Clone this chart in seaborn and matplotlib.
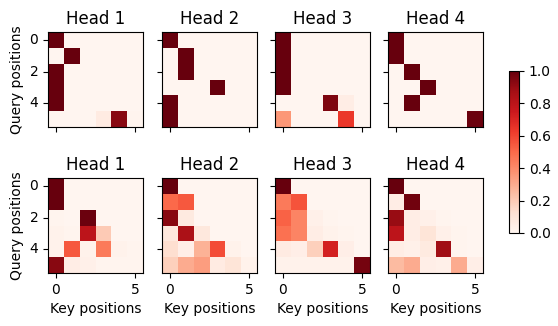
import numpy as np
import matplotlib
matplotlib.use("Agg")
import matplotlib.pyplot as plt
import seaborn as sns

titles = ["Head 1", "Head 2", "Head 3", "Head 4"]
xlabel = "Key positions"
ylabel = "Query positions"

# Layer 1 attention weights (rows = queries, cols = keys)
l1_head1 = [[1, 0, 0, 0, 0, 0],
            [0, 1, 0, 0, 0, 0],
            [1, 0, 0, 0, 0, 0],
            [1, 0, 0, 0, 0, 0],
            [1, 0, 0, 0, 0, 0],
            [0, 0, 0, 0.06, 0.93, 0.01]]
l1_head2 = [[1, 0, 0, 0, 0, 0],
            [0, 1, 0, 0, 0, 0],
            [0, 1, 0, 0, 0, 0],
            [0, 0, 0, 1, 0, 0],
            [1, 0, 0, 0, 0, 0],
            [1, 0, 0, 0, 0, 0]]
l1_head3 = [[1, 0, 0, 0, 0, 0],
            [1, 0, 0, 0, 0, 0],
            [1, 0, 0, 0, 0, 0],
            [1, 0, 0, 0, 0, 0],
            [0, 0, 0, 0.95, 0.05, 0],
            [0.36, 0, 0, 0, 0.64, 0]]
l1_head4 = [[1, 0, 0, 0, 0, 0],
            [1, 0, 0, 0, 0, 0],
            [0, 1, 0, 0, 0, 0],
            [0, 0, 1, 0, 0, 0],
            [0, 1, 0, 0, 0, 0],
            [0, 0, 0, 0, 0, 0.99]]

# Layer 2 attention weights
l2_head1 = [[1, 0, 0, 0, 0, 0],
            [1, 0, 0, 0, 0, 0],
            [0.01, 0, 0.99, 0, 0, 0],
            [0.02, 0.01, 0.8, 0.2, 0, 0],
            [0.02, 0.55, 0.02, 0.45, 0.02, 0.01],
            [0.93, 0.05, 0.03, 0.01, 0.01, 0.01]]
l2_head2 = [[1, 0, 0, 0, 0, 0],
            [0.5, 0.55, 0, 0, 0, 0],
            [0.93, 0.07, 0, 0, 0, 0],
            [0.08, 0.85, 0.08, 0, 0, 0],
            [0.13, 0.04, 0.28, 0.58, 0.02, 0],
            [0.18, 0.3, 0.34, 0.06, 0.1, 0.02]]
l2_head3 = [[1, 0, 0, 0, 0, 0],
            [0.45, 0.56, 0, 0, 0, 0],
            [0.52, 0.42, 0.03, 0.01, 0, 0],
            [0.48, 0.42, 0.05, 0.02, 0.01, 0],
            [0.06, 0.04, 0.18, 0.72, 0.04, 0],
            [0.02, 0.02, 0.02, 0.02, 0.02, 0.97]]
l2_head4 = [[1, 0, 0, 0, 0, 0],
            [0.05, 0.98, 0, 0, 0, 0],
            [0.9, 0.05, 0.03, 0.01, 0, 0],
            [0.8, 0.05, 0.1, 0.03, 0.01, 0],
            [0.05, 0.03, 0.07, 0.88, 0.01, 0],
            [0.25, 0.3, 0.04, 0.03, 0.3, 0.04]]

layers = [[l1_head1, l1_head2, l1_head3, l1_head4],
          [l2_head1, l2_head2, l2_head3, l2_head4]]

W, H = 558, 326
fig = plt.figure(figsize=(W / 100, H / 100), dpi=100)

col_x = [48, 162, 275, 388]
ax_w = 95
row_top = [32, 178]
ax_h = 95

mappable = None
for r, heads in enumerate(layers):
    for c, mat in enumerate(heads):
        left = col_x[c] / W
        bottom = 1 - (row_top[r] + ax_h) / H
        ax = fig.add_axes([left, bottom, ax_w / W, ax_h / H])
        sns.heatmap(np.array(mat, dtype=float), ax=ax, cmap="Reds",
                    vmin=0, vmax=1, cbar=False, square=False)
        mappable = ax.collections[0]
        for s in ax.spines.values():
            s.set_visible(True)
            s.set_linewidth(0.8)
            s.set_color("black")
        ax.set_xticks([0.5, 5.5])
        ax.set_yticks([0.5, 2.5, 4.5])
        ax.tick_params(axis="both", length=3.5, width=0.8, labelsize=10)
        if r == 1:
            ax.set_xticklabels(["0", "5"], rotation=0)
            ax.set_xlabel(xlabel, fontsize=10)
        else:
            ax.set_xticklabels([])
        if c == 0:
            ax.set_yticklabels(["0", "2", "4"], rotation=0)
            ax.set_ylabel(ylabel, fontsize=10)
        else:
            ax.set_yticklabels([])
        ax.set_title(titles[c], fontsize=12)

cax = fig.add_axes([509 / W, 1 - 233 / H, 10 / W, 162 / H])
cb = fig.colorbar(mappable, cax=cax)
cb.set_ticks([0, 0.2, 0.4, 0.6, 0.8, 1.0])
cb.ax.tick_params(labelsize=10)
cb.outline.set_linewidth(0.8)

fig.savefig("out.png", dpi=100)
